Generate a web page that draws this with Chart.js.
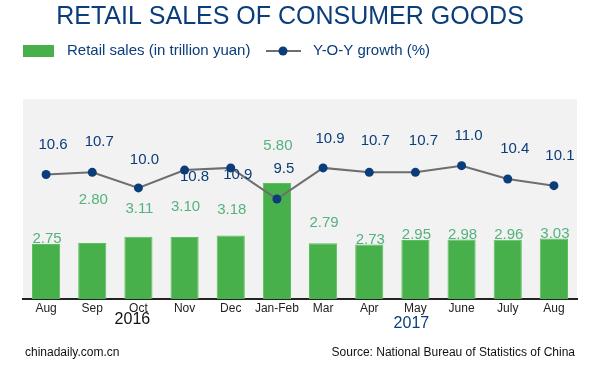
<!DOCTYPE html>
<html lang="en">
<head>
<meta charset="UTF-8">
<title>Retail sales of consumer goods</title>
<script src="https://cdn.jsdelivr.net/npm/chart.js"></script>
<style>
    html, body { margin: 0; padding: 0; background: #fff; }
    #wrap { width: 600px; height: 375px; position: relative; }
</style>
</head>
<body>
<div id="wrap"><canvas id="salesChart" width="600" height="375"></canvas></div>
<script>
// data
var months = ['Aug', 'Sep', 'Oct', 'Nov', 'Dec', 'Jan-Feb', 'Mar', 'Apr', 'May', 'June', 'July', 'Aug'];
var retailSales = [2.75, 2.80, 3.11, 3.10, 3.18, 5.80, 2.79, 2.73, 2.95, 2.98, 2.96, 3.03];
var yoyGrowth = [10.6, 10.7, 10.0, 10.8, 10.9, 9.5, 10.9, 10.7, 10.7, 11.0, 10.4, 10.1];
var yearLabels = ['2016', '2017'];

// where the value labels sit (px, relative to the bar top / point)
var barLabelDy = [-5, -43, -28, -30, -26, -37, -20, -5, -5, -5, -5, -5];
var lineLabelDx = [7, 7, 6, 10, 7, 7, 7, 6, 8, 7, 7, 6];
var lineLabelDy = [-30, -30, -28, 7, 7, -30, -29, -31, -31, -30, -30, -30];

var navy = '#0b3d7b';
var green = '#47b04b';
var labelGreen = '#55b17e';
var font = 'Arial, "Liberation Sans", Helvetica, sans-serif';

var decorPlugin = {
    id: 'decor',
    beforeDraw: function (chart) {
        var ctx = chart.ctx;
        var a = chart.chartArea;
        ctx.save();
        ctx.fillStyle = '#f2f2f2';
        ctx.fillRect(a.left, a.top, a.right - a.left, a.bottom - a.top);
        ctx.restore();
    },
    afterDraw: function (chart) {
        var ctx = chart.ctx;
        var x = chart.scales.x;
        ctx.save();
        ctx.textBaseline = 'middle';

        // title
        ctx.fillStyle = navy;
        ctx.textAlign = 'center';
        ctx.font = '25px ' + font;
        ctx.fillText('RETAIL SALES OF CONSUMER GOODS', 290, 17);

        // legend
        ctx.fillStyle = green;
        ctx.fillRect(23, 45, 31, 12);
        ctx.textAlign = 'left';
        ctx.font = '15px ' + font;
        ctx.fillStyle = navy;
        ctx.fillText('Retail sales (in trillion yuan)', 67, 51);
        ctx.strokeStyle = '#6e6e6e';
        ctx.lineWidth = 2;
        ctx.beginPath();
        ctx.moveTo(266, 51);
        ctx.lineTo(301, 51);
        ctx.stroke();
        ctx.fillStyle = navy;
        ctx.beginPath();
        ctx.arc(283, 51, 4.5, 0, Math.PI * 2);
        ctx.fill();
        ctx.fillText('Y-O-Y growth (%)', 313, 51);

        // years under the axis
        ctx.textAlign = 'center';
        ctx.font = '16px ' + font;
        ctx.fillStyle = '#111';
        ctx.fillText(yearLabels[0], x.getPixelForValue(2) - 6, 320);
        ctx.fillStyle = navy;
        ctx.fillText(yearLabels[1], x.getPixelForValue(8) - 4, 324);

        // footer
        ctx.font = '12px ' + font;
        ctx.fillStyle = '#111';
        ctx.textAlign = 'left';
        ctx.fillText('chinadaily.com.cn', 25, 353);
        ctx.textAlign = 'right';
        ctx.fillText('Source: National Bureau of Statistics of China', 575, 353);
        ctx.restore();
    },
    afterDatasetsDraw: function (chart) {
        var ctx = chart.ctx;
        var bars = chart.getDatasetMeta(0).data;
        var points = chart.getDatasetMeta(1).data;
        ctx.save();
        ctx.font = '15px ' + font;
        ctx.textAlign = 'center';
        ctx.textBaseline = 'middle';
        ctx.fillStyle = labelGreen;
        bars.forEach(function (bar, i) {
            ctx.fillText(retailSales[i].toFixed(2), bar.x + 1, bar.y + barLabelDy[i]);
        });
        ctx.fillStyle = navy;
        points.forEach(function (pt, i) {
            ctx.fillText(yoyGrowth[i].toFixed(1), pt.x + lineLabelDx[i], pt.y + lineLabelDy[i]);
        });
        ctx.restore();
    }
};

var ctx = document.getElementById('salesChart').getContext('2d');
var salesChart = new Chart(ctx, {
    type: 'bar',
    data: {
        labels: months,
        datasets: [{
            type: 'bar',
            label: 'Retail sales (in trillion yuan)',
            data: retailSales,
            yAxisID: 'y',
            backgroundColor: green,
            borderColor: '#5cbf5f',
            borderWidth: 1,
            barPercentage: 0.61,
            categoryPercentage: 1.0,
            order: 1
        }, {
            type: 'line',
            label: 'Y-O-Y growth (%)',
            data: yoyGrowth,
            yAxisID: 'y2',
            borderColor: '#6e6e6e',
            borderWidth: 2,
            pointBackgroundColor: navy,
            pointBorderWidth: 0,
            pointRadius: 4.5,
            tension: 0,
            order: 0
        }]
    },
    options: {
        responsive: false,
        animation: false,
        layout: { padding: { top: 99, left: 23, right: 23, bottom: 0 } },
        plugins: {
            legend: { display: false },
            tooltip: { enabled: false }
        },
        scales: {
            x: {
                grid: { display: false, drawTicks: false, tickLength: 0 },
                border: { display: true, color: '#222', width: 2 },
                ticks: {
                    color: '#222',
                    font: { family: font, size: 12 },
                    padding: 2,
                    maxRotation: 0,
                    autoSkip: false
                },
                afterFit: function (scale) { scale.height = 76; }
            },
            y: { display: false, min: 0, max: 10 },
            y2: { display: false, min: 5, max: 14 }
        }
    },
    plugins: [decorPlugin]
});
</script>
</body>
</html>
